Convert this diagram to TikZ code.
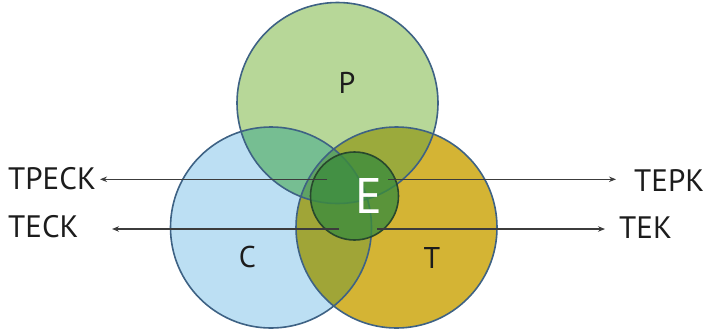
\documentclass[tikz,border=0pt]{standalone}
\usepackage{fontspec}
\setmainfont{PT Sans}
\usetikzlibrary{arrows.meta}
% single sets
\definecolor{pfill}{RGB}{183,215,152}
\definecolor{cfill}{RGB}{188,223,243}
\definecolor{tfill}{RGB}{212,180,52}
% overlaps
\definecolor{pcfill}{RGB}{118,190,146}
\definecolor{ptfill}{RGB}{155,170,60}
\definecolor{ctfill}{RGB}{160,165,55}
\definecolor{pctfill}{RGB}{95,162,100}
% core set and inks
\definecolor{efill}{RGB}{60,140,60}
\definecolor{rim}{RGB}{62,98,132}
\definecolor{erim}{RGB}{40,72,45}
\definecolor{pointerink}{RGB}{60,60,60}
\definecolor{labelink}{RGB}{28,28,28}

\begin{document}
\begin{tikzpicture}[x=1pt,y=-1pt,
  setrim/.style={draw=rim, line width=1.6pt},
  pointer/.style={draw=pointerink, line width=1.1pt, -{Stealth[length=7pt,width=5.5pt]}},
  outerlabel/.style={font=\fontsize{31}{31}\selectfont, inner sep=0pt, anchor=base west, text=labelink},
  setlabel/.style={font=\fontsize{30}{30}\selectfont, inner sep=0pt, anchor=base, text=labelink}]

\useasboundingbox (0,0) rectangle (708,330);

\def\Pset{(337.5,103) circle[radius=100.5pt]}
\def\Cset{(271,227.5) circle[radius=100.5pt]}
\def\Tset{(396.5,227.5) circle[radius=100.5pt]}

% single regions
\fill[cfill] \Cset;
\fill[tfill] \Tset;
\fill[pfill] \Pset;

% pairwise overlaps
\begin{scope}
  \clip \Pset;
  \fill[pcfill] \Cset;
  \fill[ptfill] \Tset;
\end{scope}
\begin{scope}
  \clip \Cset;
  \fill[ctfill] \Tset;
\end{scope}
% triple overlap
\begin{scope}
  \clip \Pset;
  \clip \Cset;
  \fill[pctfill] \Tset;
\end{scope}

% outlines of the three sets
\draw[setrim] \Cset;
\draw[setrim] \Tset;
\draw[setrim] \Pset;

% the core set E
\filldraw[fill=efill, fill opacity=0.8, draw=erim, line width=1.6pt]
  (354.5,196) circle[radius=44pt];

% set labels
\node[setlabel] (lP) at (347,93) {P};
\node[setlabel] (lC) at (247.5,267.5) {C};
\node[setlabel] (lT) at (432,268) {T};
\node[setlabel, text=white, font=\fontsize{50}{50}\selectfont] (lE) at (369,213) {E};

% outer labels
\node[outerlabel] (tpeck) at (8,189.5) {TPECK};
\node[outerlabel] (teck) at (8,237) {TECK};
\node[outerlabel] (tepk) at (634,191.5) {TEPK};
\node[outerlabel] (tek) at (619,238) {TEK};

% pointer ends
\coordinate (ulin) at (327,179.3);
\coordinate (ulout) at (100,179.3);
\coordinate (llin) at (339,229);
\coordinate (llout) at (112,229);
\coordinate (urin) at (388,179.3);
\coordinate (urout) at (616,179.3);
\coordinate (lrin) at (377,229);
\coordinate (lrout) at (605,229);

\draw[pointer] (ulin) -- (ulout);
\draw[pointer] (llin) -- (llout);
\draw[pointer] (urin) -- (urout);
\draw[pointer] (lrin) -- (lrout);
\end{tikzpicture}
\end{document}
